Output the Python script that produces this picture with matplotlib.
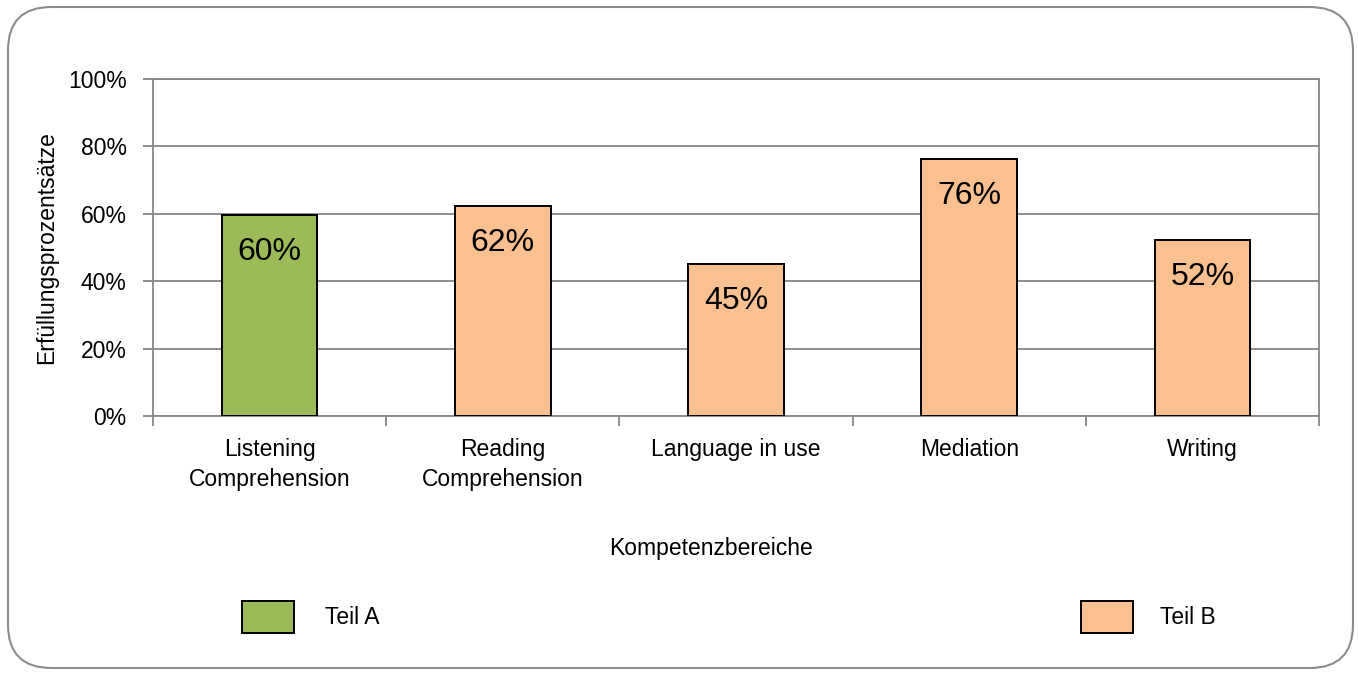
import matplotlib.pyplot as plt
from matplotlib.patches import FancyBboxPatch
import numpy as np

plt.rcParams['font.family'] = ['Liberation Sans', 'DejaVu Sans']

categories = ['Listening\nComprehension', 'Reading\nComprehension', 'Language in use', 'Mediation', 'Writing']
values = [59.6, 62.3, 45.1, 76.3, 52.2]
parts = ['A', 'B', 'B', 'B', 'B']
yticks = [0, 20, 40, 60, 80, 100]

colors = {'A': '#9BBB59', 'B': '#FAC090'}
grey = '#868686'
fs = 16.5

fig = plt.figure(figsize=(13.58, 6.75), dpi=100)
ax = fig.add_axes([153/1358, 1-416/675, (1319-153)/1358, (416-79)/675])

# rounded frame round the whole chart
frame = FancyBboxPatch((8/1358, 7/675), 1345/1358, 661/675,
                       boxstyle='round,pad=0,rounding_size=0.032',
                       transform=fig.transFigure, facecolor='none',
                       edgecolor='#8c8c8c', linewidth=1.5, mutation_aspect=1358/675)
fig.patches.append(frame)

x = np.arange(len(categories))
bars = ax.bar(x, values, width=0.41, color=[colors[p] for p in parts],
              edgecolor='black', linewidth=1.4, zorder=3)

for xi, v in zip(x, values):
    ax.text(xi, v - 6.5, '%d%%' % round(v), ha='center', va='top', fontsize=23, zorder=4)

ax.set_ylim(0, 100)
ax.set_xlim(-0.5, len(categories) - 0.5)
ax.set_yticks(yticks)
ax.set_yticklabels(['%d%%' % t for t in yticks], fontsize=fs)
ax.yaxis.grid(True, color=grey, linewidth=1.3, zorder=0)
ax.set_xticks(x)
ax.set_xticklabels(categories, fontsize=fs, linespacing=1.35)
ax.set_xticks(np.arange(-0.5, len(categories)), minor=True)
ax.tick_params(axis='x', which='major', length=0, pad=16)
ax.tick_params(axis='x', which='minor', length=7, color=grey, width=1.3)
ax.tick_params(axis='y', length=7, color=grey, width=1.3, pad=12)
for s in ax.spines.values():
    s.set_color(grey)
    s.set_linewidth(1.3)

ax.set_ylabel('Erfüllungsprozentsätze', fontsize=fs, labelpad=7)
fig.text(711/1358, 1-549/675, 'Kompetenzbereiche', ha='center', va='center', fontsize=fs)

fig.legend([bars[0]], ['Teil A'], loc='center left', bbox_to_anchor=(221/1358, 1-617/675),
           frameon=False, fontsize=fs, handlelength=2.27, handleheight=1.75, handletextpad=1.35)
fig.legend([bars[1]], ['Teil B'], loc='center left', bbox_to_anchor=(1060/1358, 1-617/675),
           frameon=False, fontsize=fs, handlelength=2.27, handleheight=1.75, handletextpad=1.2)

fig.savefig('out.png', dpi=100)
